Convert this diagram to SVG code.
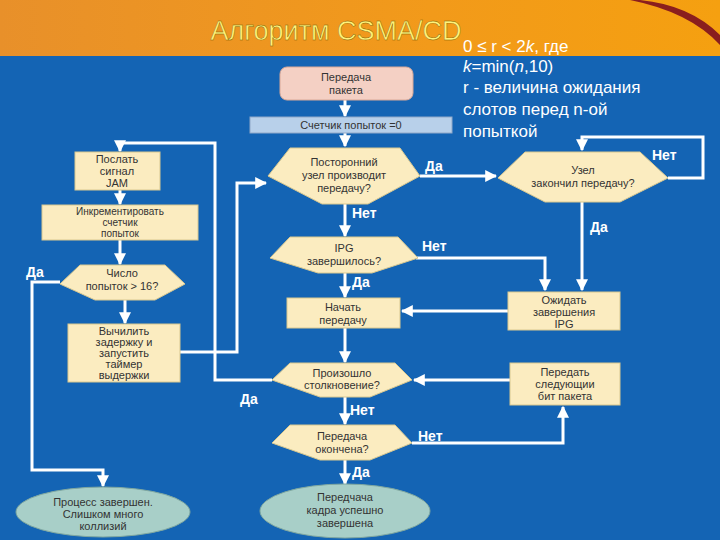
<svg xmlns="http://www.w3.org/2000/svg" width="720" height="540" viewBox="0 0 720 540">
<defs>
<linearGradient id="og" x1="0" y1="0" x2="1" y2="0"><stop offset="0" stop-color="#e8902a"/><stop offset="0.6" stop-color="#f29a1a"/><stop offset="1" stop-color="#f5a010"/></linearGradient>
<marker id="ar" viewBox="0 0 10 10" refX="9" refY="5" markerWidth="4" markerHeight="4" orient="auto"><path d="M0,0L10,5L0,10z" fill="#fff"/></marker>
<style>
.b{fill:#fbecc0;stroke:#d8c890;stroke-width:1}
.t{font-family:"Liberation Sans",Arial,sans-serif;font-size:11px;fill:#333;text-anchor:middle}
.s{font-size:10px}
.c path{fill:none;stroke:#fff;stroke-width:3;marker-end:url(#ar)}
.l{font-family:"Liberation Sans",Arial,sans-serif;font-size:14px;font-weight:bold;fill:#fff}
.nt{font-family:"Liberation Sans",Arial,sans-serif;font-size:17px;fill:#fff}
</style>
</defs>
<rect width="720" height="540" fill="#1464b4"/>
<rect width="720" height="56" fill="url(#og)"/>
<path d="M640,0 Q690,5 720,35 L720,45 Q690,12 630,0z" fill="#8a1e1e"/>
<text x="336" y="40" font-family="Liberation Sans,Arial,sans-serif" font-size="27" fill="#fff27a" stroke="#7a5a00" stroke-width="0.4" text-anchor="middle">Алгоритм CSMA/CD</text>
<g id="note" class="nt">
<text x="463" y="52">0 ≤ r &lt; 2<tspan font-style="italic">k</tspan>, где</text>
<text x="463" y="72"><tspan font-style="italic">k</tspan>=min(<tspan font-style="italic">n</tspan>,10)</text>
<text x="463" y="93">r -  величина ожидания</text>
<text x="463" y="115">слотов перед n-ой</text>
<text x="463" y="137">попыткой</text>
</g>
<g class="c" id="connectors">
<path d="M345,100V116"/>
<path d="M345,133V146"/>
<path d="M420,176H496"/>
<path d="M668,178H703V137H582V150"/>
<path d="M582,200V290"/>
<path d="M345,203V236"/>
<path d="M416,258H545V290"/>
<path d="M345,272V297"/>
<path d="M508,311H402"/>
<path d="M345,328V362"/>
<path d="M510,380H414"/>
<path d="M272,380H215V143H120V151"/>
<path d="M180,352H237V183H266"/>
<path d="M120,190V204"/>
<path d="M120,240V264"/>
<path d="M125,300V323"/>
<path d="M60,282H32V470H103V486"/>
<path d="M412,443H563V407"/>
<path d="M345,460V484"/>
<path d="M345,397V424"/>
</g>
<g class="l">
<text x="425" y="171">Да</text><text x="652" y="160">Нет</text><text x="590" y="232">Да</text>
<text x="352" y="218">Нет</text><text x="422" y="251">Нет</text><text x="352" y="287">Да</text>
<text x="26" y="277">Да</text><text x="240" y="404">Да</text><text x="350" y="415">Нет</text>
<text x="418" y="441">Нет</text><text x="352" y="477">Да</text>
</g>
<g id="n1"><rect x="280" y="67" width="133" height="33" rx="7" fill="#f4d0c4" stroke="#d8a898"/><text class="t" x="346" y="81">Передача</text><text class="t" x="346" y="94">пакета</text></g>
<g id="n2"><rect x="250" y="117" width="202" height="16" fill="#b8d0ea" stroke="#90a8c8"/><text class="t" x="351" y="129">Счетчик попыток =0</text></g>
<g id="d1"><polygon class="b" points="290,148 400,148 420,176 368,204 322,204 268,176"/><text class="t" x="344" y="166">Посторонний</text><text class="t" x="344" y="179">узел производит</text><text class="t" x="344" y="192">передачу?</text></g>
<g id="d2"><polygon class="b" points="525,152 640,152 668,178 620,202 545,202 498,178"/><text class="t" x="583" y="174">Узел</text><text class="t" x="583" y="187">закончил передачу?</text></g>
<g id="n3"><rect class="b" x="75" y="152" width="85" height="38"/><text class="t" x="117" y="163">Послать</text><text class="t" x="117" y="175">сигнал</text><text class="t" x="117" y="187">JAM</text></g>
<g id="n4"><rect class="b" x="42" y="205" width="156" height="35"/><text class="t s" x="120" y="215">Инкрементировать</text><text class="t s" x="120" y="226">счетчик</text><text class="t s" x="120" y="237">попыток</text></g>
<g id="d3"><polygon class="b" points="80,265 165,265 185,284 155,300 95,300 60,284"/><text class="t" x="122" y="277">Число</text><text class="t" x="122" y="290">попыток &gt; 16?</text></g>
<g id="n5"><rect class="b" x="68" y="324" width="112" height="58"/><text class="t" x="124" y="335">Вычилить</text><text class="t" x="124" y="346">задержку и</text><text class="t" x="124" y="357">запустить</text><text class="t" x="124" y="368">таймер</text><text class="t" x="124" y="379">выдержки</text></g>
<g id="d4"><polygon class="b" points="290,237 398,237 418,258 372,273 318,273 270,258"/><text class="t" x="344" y="252">IPG</text><text class="t" x="344" y="265">завершилось?</text></g>
<g id="n6"><rect class="b" x="287" y="298" width="113" height="30"/><text class="t" x="343" y="311">Начать</text><text class="t" x="343" y="324">передачу</text></g>
<g id="n7"><rect class="b" x="508" y="292" width="112" height="38"/><text class="t" x="564" y="304">Ожидать</text><text class="t" x="564" y="316">завершения</text><text class="t" x="564" y="328">IPG</text></g>
<g id="d5"><polygon class="b" points="290,363 395,363 412,380 370,397 320,397 272,380"/><text class="t" x="342" y="377">Произошло</text><text class="t" x="342" y="389">столкновение?</text></g>
<g id="n8"><rect class="b" x="510" y="363" width="110" height="42"/><text class="t" x="565" y="376">Передать</text><text class="t" x="565" y="388">следующии</text><text class="t" x="565" y="400">бит пакета</text></g>
<g id="d6"><polygon class="b" points="290,425 395,425 412,443 370,460 320,460 272,443"/><text class="t" x="342" y="440">Передача</text><text class="t" x="342" y="453">окончена?</text></g>
<g id="e1"><ellipse cx="103" cy="512" rx="87" ry="25" fill="#a8cfc8" stroke="#80a8a0"/><text class="t" x="103" y="506">Процесс завершен.</text><text class="t" x="103" y="518">Слишком много</text><text class="t" x="103" y="530">коллизий</text></g>
<g id="e2"><ellipse cx="345" cy="511" rx="85" ry="27" fill="#a8cfc8" stroke="#80a8a0"/><text class="t" x="345" y="501">Передчача</text><text class="t" x="345" y="514">кадра успешно</text><text class="t" x="345" y="527">завершена</text></g>
</svg>
